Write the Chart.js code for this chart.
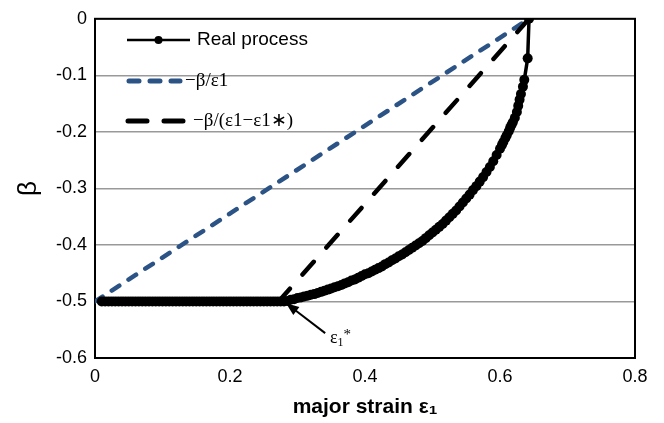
<!DOCTYPE html>
<html>
<head>
<meta charset="utf-8">
<script src="https://cdn.jsdelivr.net/npm/chart.js@4"></script>
<style>
  html, body { margin: 0; padding: 0; background: #fff; }
  #wrap { width: 664px; height: 423px; }
</style>
</head>
<body>
<div id="wrap"><canvas id="chart"></canvas></div>
<script>
// ============================
// Data
// ============================
const realStrain = [
  0.010, 0.015, 0.020, 0.025, 0.030, 0.035, 0.040, 0.045, 0.050, 0.055,
  0.060, 0.065, 0.070, 0.075, 0.080, 0.085, 0.090, 0.095, 0.100, 0.105,
  0.110, 0.115, 0.120, 0.125, 0.130, 0.135, 0.140, 0.145, 0.150, 0.155,
  0.160, 0.165, 0.170, 0.175, 0.180, 0.185, 0.190, 0.195, 0.200, 0.205,
  0.210, 0.215, 0.220, 0.225, 0.230, 0.235, 0.240, 0.245, 0.250, 0.255,
  0.260, 0.265, 0.270, 0.275, 0.280,
  0.285, 0.290, 0.295, 0.300, 0.305, 0.310, 0.315, 0.320, 0.325, 0.330,
  0.335, 0.340, 0.345, 0.350, 0.355, 0.360, 0.365, 0.370, 0.375, 0.380,
  0.385, 0.390, 0.395, 0.400, 0.405, 0.410, 0.415, 0.420, 0.425, 0.430,
  0.435, 0.440, 0.445, 0.450, 0.455, 0.460, 0.465, 0.470, 0.475, 0.480,
  0.485, 0.490, 0.495, 0.500, 0.505, 0.510, 0.515, 0.520, 0.525, 0.530,
  0.535, 0.540, 0.545, 0.550, 0.555, 0.560, 0.565, 0.570, 0.575, 0.580,
  0.585, 0.590, 0.595, 0.600, 0.603, 0.605, 0.608, 0.610, 0.613, 0.615,
  0.617, 0.619, 0.622, 0.625, 0.627, 0.629, 0.631, 0.634, 0.636, 0.641,
  0.643
];
const realBeta = [
  -0.5, -0.5, -0.5, -0.5, -0.5, -0.5, -0.5, -0.5, -0.5, -0.5,
  -0.5, -0.5, -0.5, -0.5, -0.5, -0.5, -0.5, -0.5, -0.5, -0.5,
  -0.5, -0.5, -0.5, -0.5, -0.5, -0.5, -0.5, -0.5, -0.5, -0.5,
  -0.5, -0.5, -0.5, -0.5, -0.5, -0.5, -0.5, -0.5, -0.5, -0.5,
  -0.5, -0.5, -0.5, -0.5, -0.5, -0.5, -0.5, -0.5, -0.5, -0.5,
  -0.5, -0.5, -0.5, -0.5, -0.5,
  -0.499, -0.497, -0.496, -0.494, -0.493, -0.491, -0.490, -0.488, -0.487, -0.485,
  -0.483, -0.481, -0.479, -0.477, -0.475, -0.473, -0.471, -0.468, -0.466, -0.463,
  -0.461, -0.458, -0.455, -0.452, -0.450, -0.447, -0.444, -0.441, -0.438, -0.434,
  -0.431, -0.427, -0.424, -0.420, -0.417, -0.413, -0.409, -0.405, -0.401, -0.397,
  -0.393, -0.388, -0.383, -0.378, -0.373, -0.368, -0.363, -0.357, -0.351, -0.345,
  -0.339, -0.332, -0.325, -0.318, -0.311, -0.303, -0.296, -0.288, -0.280, -0.271,
  -0.262, -0.252, -0.241, -0.230, -0.223, -0.218, -0.211, -0.206, -0.199, -0.193,
  -0.188, -0.183, -0.175, -0.165, -0.154, -0.143, -0.133, -0.120, -0.108, -0.070,
  0
];

// -beta/eps1 line
const ratioStrain = [0, 0.643];
const ratioBeta = [-0.5, 0];

// -beta/(eps1 - eps1*) line
const shiftStrain = [0.272, 0.643];
const shiftBeta = [-0.5, 0];

const xTicks = [0, 0.2, 0.4, 0.6, 0.8];
const yTicks = [0, -0.1, -0.2, -0.3, -0.4, -0.5, -0.6];

// eps1* marker arrow (tip, tail) in data units
const arrowTip = [0.283, -0.503];
const arrowTail = [0.341, -0.556];
const arrowLabelAt = [0.348, -0.574];

const toPoints = (xs, ys) => xs.map((x, i) => ({ x: x, y: ys[i] }));

const SANS = "'Liberation Sans', Arial, sans-serif";
const SERIF = "'Liberation Serif', 'Times New Roman', serif";
const BLUE = '#2b5385';

// ============================
// Plugins: frame, legend, arrow
// ============================
const framePlugin = {
  id: 'frame',
  beforeDatasetsDraw(chart) {
    const a = chart.chartArea, c = chart.ctx;
    c.save();
    c.strokeStyle = '#000';
    c.lineWidth = 2;
    c.strokeRect(a.left, a.top, a.right - a.left, a.bottom - a.top);
    c.restore();
  }
};

const legendPlugin = {
  id: 'ownLegend',
  afterDatasetsDraw(chart) {
    const c = chart.ctx;
    const rows = [
      { ds: 0, y: 40, x0: 127, x1: 190, tx: 197, font: '19px ' + SANS, dash: [], cap: 'butt', w: 2.5, dot: true },
      { ds: 1, y: 81, x0: 129, x1: 180, tx: 185, font: '19px ' + SERIF, dash: [10, 11], cap: 'round', w: 5, dot: false },
      { ds: 2, y: 121, x0: 128, x1: 186, tx: 193, font: '19px ' + SERIF, dash: [19, 17], cap: 'round', w: 5, dot: false }
    ];
    c.save();
    rows.forEach(r => {
      const ds = chart.data.datasets[r.ds];
      c.strokeStyle = ds.borderColor;
      c.lineWidth = r.w;
      c.lineCap = r.cap;
      c.setLineDash(r.dash);
      c.beginPath();
      c.moveTo(r.x0, r.y);
      c.lineTo(r.x1, r.y);
      c.stroke();
      c.setLineDash([]);
      if (r.dot) {
        c.fillStyle = ds.borderColor;
        c.beginPath();
        c.arc((r.x0 + r.x1) / 2, r.y, 4, 0, Math.PI * 2);
        c.fill();
      }
      c.fillStyle = '#000';
      c.font = r.font;
      c.textBaseline = 'middle';
      c.textAlign = 'left';
      c.fillText(ds.label, r.tx, r.y);
    });
    c.restore();
  }
};

const arrowPlugin = {
  id: 'arrow',
  afterDatasetsDraw(chart) {
    const c = chart.ctx, xs = chart.scales.x, ys = chart.scales.y;
    const tx = xs.getPixelForValue(arrowTip[0]), ty = ys.getPixelForValue(arrowTip[1]);
    const fx = xs.getPixelForValue(arrowTail[0]), fy = ys.getPixelForValue(arrowTail[1]);
    const ang = Math.atan2(ty - fy, tx - fx);
    c.save();
    c.strokeStyle = '#000';
    c.fillStyle = '#000';
    c.lineWidth = 2;
    c.beginPath();
    c.moveTo(fx, fy);
    c.lineTo(tx - 8 * Math.cos(ang), ty - 8 * Math.sin(ang));
    c.stroke();
    c.beginPath();
    c.moveTo(tx, ty);
    c.lineTo(tx - 13 * Math.cos(ang) + 5 * Math.sin(ang), ty - 13 * Math.sin(ang) - 5 * Math.cos(ang));
    c.lineTo(tx - 13 * Math.cos(ang) - 5 * Math.sin(ang), ty - 13 * Math.sin(ang) + 5 * Math.cos(ang));
    c.closePath();
    c.fill();
    // label eps_1*
    let lx = xs.getPixelForValue(arrowLabelAt[0]);
    const ly = ys.getPixelForValue(arrowLabelAt[1]);
    c.textBaseline = 'alphabetic';
    c.textAlign = 'left';
    c.font = '18px ' + SERIF;
    c.fillText('ε', lx, ly);
    lx += c.measureText('ε').width;
    c.font = '12px ' + SERIF;
    c.fillText('1', lx, ly + 3);
    lx += c.measureText('1').width;
    c.font = '15px ' + SERIF;
    c.fillText('*', lx, ly - 4);
    c.restore();
  }
};

// ============================
// Chart
// ============================
const ctx = document.getElementById('chart').getContext('2d');
const chart = new Chart(ctx, {
  type: 'scatter',
  data: {
    datasets: [{
      label: 'Real process',
      data: toPoints(realStrain, realBeta),
      showLine: true,
      borderColor: '#000',
      backgroundColor: '#000',
      borderWidth: 3.5,
      pointRadius: 5,
      pointHoverRadius: 5,
      pointBorderWidth: 0,
      order: 0
    }, {
      label: '−β/ε1',
      data: toPoints(ratioStrain, ratioBeta),
      showLine: true,
      borderColor: BLUE,
      borderWidth: 4.5,
      borderDash: [9, 11],
      borderCapStyle: 'round',
      pointRadius: 0,
      order: 2
    }, {
      label: '−β/(ε1−ε1∗)',
      data: toPoints(shiftStrain, shiftBeta),
      showLine: true,
      borderColor: '#000',
      borderWidth: 4.5,
      borderDash: [17, 19],
      borderCapStyle: 'round',
      pointRadius: 0,
      order: 1
    }]
  },
  options: {
    responsive: true,
    maintainAspectRatio: false,
    animation: false,
    layout: { padding: { top: 15, right: 29, left: 0, bottom: 0 } },
    plugins: {
      legend: { display: false },
      tooltip: { enabled: false }
    },
    scales: {
      x: {
        type: 'linear',
        min: 0, max: 0.8,
        afterBuildTicks: s => { s.ticks = xTicks.map(v => ({ value: v })); },
        afterFit: s => { s.height = 65; },
        grid: { display: false, drawTicks: false },
        border: { display: false },
        ticks: {
          color: '#000',
          font: { family: SANS, size: 18 },
          padding: 8,
          maxRotation: 0,
          callback: v => String(+v.toFixed(1))
        },
        title: {
          display: true,
          text: 'major strain ε₁',
          color: '#000',
          font: { family: SANS, size: 21, weight: 'bold' },
          padding: { top: 0, bottom: 3 }
        }
      },
      y: {
        type: 'linear',
        min: -0.6, max: 0,
        afterBuildTicks: s => { s.ticks = yTicks.map(v => ({ value: v })); },
        afterFit: s => { s.width = 95; },
        grid: { color: '#999', lineWidth: 1.5, drawTicks: false },
        border: { display: false },
        ticks: {
          color: '#000',
          font: { family: SANS, size: 18 },
          padding: 8,
          callback: v => v === 0 ? '0' : v.toFixed(1)
        },
        title: {
          display: true,
          text: 'β',
          color: '#000',
          font: { family: SANS, size: 26 },
          padding: { top: 13, bottom: 0 }
        }
      }
    }
  },
  plugins: [framePlugin, legendPlugin, arrowPlugin]
});
</script>
</body>
</html>
